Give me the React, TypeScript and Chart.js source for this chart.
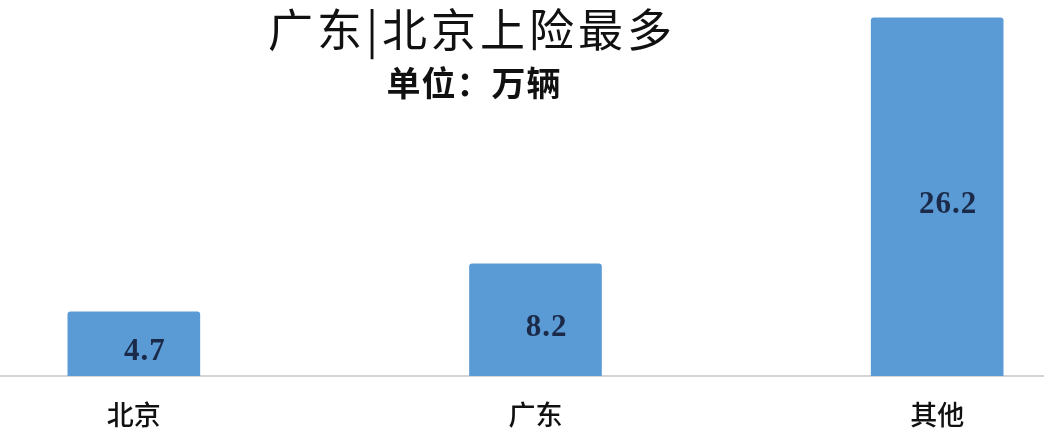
import React, { useEffect, useRef } from "react";
import { Chart, registerables } from "chart.js";

Chart.register(...registerables);

const categories = ["北京", "广东", "其他"];
const values = [4.7, 8.2, 26.2];
const title = "广东|北京上险最多";
const subtitle = "单位：万辆";

const BLUE = "#5b9bd5";
const CJK = '"Noto Sans CJK SC", "Noto Sans", sans-serif';

// value labels drawn in the middle of each bar
const valueLabels = {
  id: "valueLabels",
  afterDatasetsDraw(chart: Chart) {
    const ctx = chart.ctx as any;
    const meta = chart.getDatasetMeta(0);
    ctx.save();
    ctx.font = 'bold 31px "Liberation Serif", serif';
    ctx.letterSpacing = "1px";
    ctx.fillStyle = "#1b2a48";
    ctx.textAlign = "center";
    ctx.textBaseline = "middle";
    meta.data.forEach((bar: any, i: number) => {
      const v = chart.data.datasets[0].data[i] as number;
      const y = (bar.y + bar.base) / 2 + 8;
      ctx.fillText(v.toFixed(1), bar.x + 11, y);
    });
    ctx.restore();
  }
};

export default function App() {
  const canvasRef = useRef<HTMLCanvasElement | null>(null);

  useEffect(() => {
    if (!canvasRef.current) return;
    const chart = new Chart(canvasRef.current, {
      type: "bar",
      data: {
        labels: categories,
        datasets: [
          {
            data: values,
            backgroundColor: BLUE,
            borderRadius: 3,
            borderSkipped: "bottom",
            barThickness: 132
          }
        ]
      },
      options: {
        animation: false,
        responsive: true,
        maintainAspectRatio: false,
        layout: { padding: 0 },
        plugins: {
          legend: { display: false },
          tooltip: { enabled: false }
        },
        scales: {
          x: {
            grid: { display: false },
            border: { display: true, color: "#d4d4d4", width: 2 },
            ticks: {
              color: "#111",
              font: { family: CJK, size: 27, weight: 500 },
              padding: 15
            },
            afterFit: (scale: any) => {
              scale.height = 60;
            }
          },
          y: {
            display: false,
            min: 0,
            max: 27.5
          }
        }
      },
      plugins: [valueLabels]
    });
    return () => chart.destroy();
  }, []);

  return (
    <div
      style={{
        position: "absolute",
        top: 0,
        left: 0,
        width: 1044,
        height: 436,
        overflow: "hidden",
        background: "#fff"
      }}
    >
      <div style={{ position: "absolute", left: -67, top: 0, width: 1205, height: 436 }}>
        <canvas ref={canvasRef} />
      </div>
      <div
        style={{
          position: "absolute",
          left: 0,
          width: 944,
          top: 1,
          textAlign: "center",
          fontFamily: CJK,
          fontSize: 45,
          lineHeight: "54px",
          letterSpacing: 4,
          color: "#111"
        }}
      >
        {title}
      </div>
      <div
        style={{
          position: "absolute",
          left: 0,
          width: 948,
          top: 61,
          textAlign: "center",
          fontFamily: CJK,
          fontSize: 34,
          fontWeight: 700,
          lineHeight: "42px",
          letterSpacing: 1,
          color: "#111"
        }}
      >
        {subtitle}
      </div>
    </div>
  );
}
